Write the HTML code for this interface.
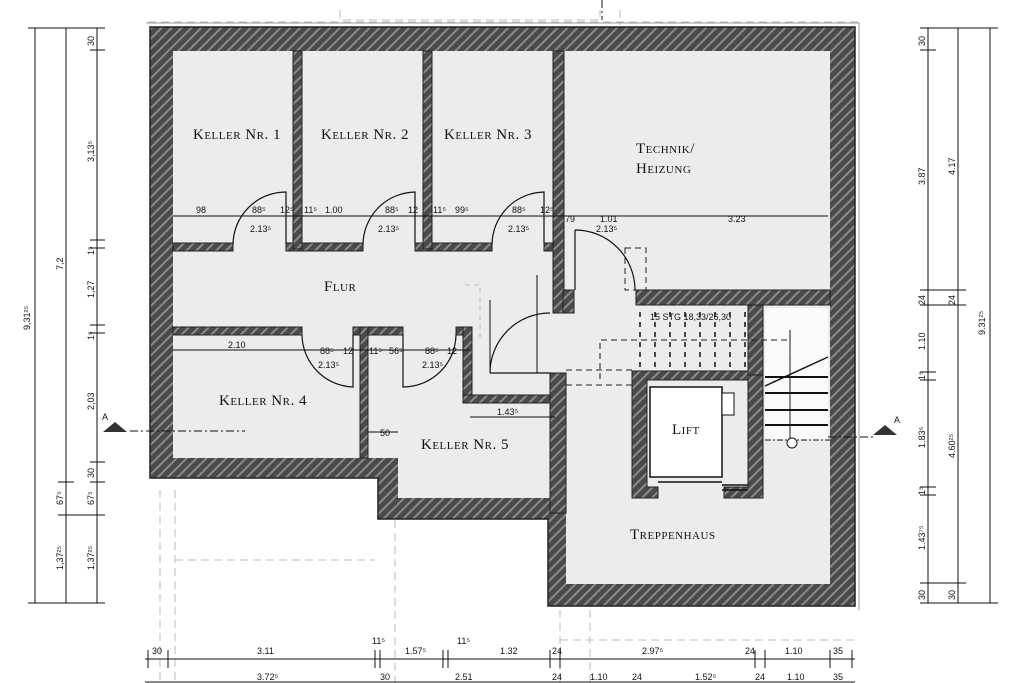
<!DOCTYPE html>
<html><head><meta charset="utf-8"><style>
html,body{margin:0;padding:0;background:#fff}
svg{display:block}
.lab{font-family:"Liberation Serif",serif;font-size:15px;font-variant:small-caps;fill:#111;letter-spacing:0.5px}
.d{font-family:"Liberation Sans",sans-serif;font-size:9px;fill:#111}
.dl{stroke:#111;stroke-width:1;fill:none}
.ds{stroke:#222;stroke-width:1;fill:none;stroke-dasharray:6 4}
</style></head><body>
<svg width="1024" height="683" viewBox="0 0 1024 683" xmlns="http://www.w3.org/2000/svg">
<defs>
<pattern id="h" width="7" height="7" patternUnits="userSpaceOnUse" patternTransform="rotate(45)">
<rect width="7" height="7" fill="#4a4a4a"/><rect width="2" height="7" fill="#8a8a8a"/>
</pattern>
</defs>
<rect width="1024" height="683" fill="#fff"/>
<!-- faint background dashed lines -->
<g stroke="#bbb" stroke-width="1" stroke-dasharray="8 5" fill="none">
<path d="M160 490V683M175 490V683M395 520V683M560 610V683M590 610V683M340 10V20H600V10M620 10V25M148 22H860"/>
<path d="M175 560H375M560 640H855"/>
</g>
<path d="M602 0V20" stroke="#111" stroke-dasharray="8 3 2 3"/>
<!-- outer walls -->
<path d="M150 27H855V606H548V519H378V478H150Z" fill="url(#h)" stroke="#222" stroke-width="1.5"/>
<path d="M146 23H859V610" fill="none" stroke="#999"/>
<!-- inner fill -->
<path d="M173 51H830V584H566V498H398V458H173Z" fill="#ececec"/>
<!-- interior walls -->
<g fill="url(#h)" stroke="#222" stroke-width="1">
<rect x="173" y="243" width="60" height="8"/>
<rect x="286" y="243" width="77" height="8"/>
<rect x="415" y="243" width="77" height="8"/>
<rect x="544" y="243" width="10" height="8"/>
<rect x="293" y="51" width="9" height="198"/>
<rect x="423" y="51" width="9" height="198"/>
<rect x="553" y="51" width="11" height="262"/>
<rect x="563" y="290" width="11" height="23"/>
<rect x="636" y="290" width="194" height="15"/>
<rect x="173" y="327" width="129" height="8"/>
<rect x="353" y="327" width="50" height="8"/>
<rect x="360" y="327" width="8" height="131"/>
<rect x="456" y="327" width="16" height="8"/>
<rect x="463" y="327" width="9" height="76"/>
<rect x="463" y="395" width="102" height="8"/>
<rect x="550" y="373" width="16" height="140"/>
<path d="M632 371H763V498H724V487H748V380H647V487H658V498H632Z"/>
<rect x="748" y="305" width="15" height="70"/>
</g>
<!-- lift & stairs -->
<rect x="650" y="387" width="72" height="90" fill="#fff" stroke="#111" stroke-width="1.5"/>
<rect x="722" y="393" width="12" height="22" fill="#fff" stroke="#111"/>
<path d="M722 485H748M722 490H748M658 482H722" stroke="#111" stroke-width="1.5"/>
<rect x="765" y="308" width="63" height="132" fill="#fafafa"/>
<g stroke="#111" stroke-width="2">
<path d="M765 377H828M765 393H828M765 410H828M765 425H828"/>
<path d="M765 386L828 357" stroke-width="1.5"/>
</g>
<path d="M765 440H830" stroke="#111" stroke-dasharray="6 2 2 2"/>
<path d="M790 330V440" stroke="#111"/>
<circle cx="792" cy="443" r="5" fill="#fff" stroke="#111"/>
<g stroke="#111" stroke-width="1.5" stroke-dasharray="5 5">
<path d="M640 312V372M655 312V372M670 312V372M685 312V372M700 312V372M715 312V372M730 312V372M745 312V372"/>
</g>
<path class="ds" d="M600 379V340H790V440"/>
<path class="ds" d="M566 370H632M566 385H632"/>
<text class="d" x="650" y="320">15 STG 18,33/26,30</text>
<!-- doors -->
<g stroke="#111" stroke-width="1.2" fill="none">
<path d="M286 243V192A53 53 0 0 0 233 245"/>
<path d="M415 243V192A53 53 0 0 0 363 245"/>
<path d="M544 243V192A53 53 0 0 0 492 245"/>
<path d="M353 335V387A53 53 0 0 1 302 335"/>
<path d="M403 335V387A53 53 0 0 0 456 335"/>
<path d="M490 373H550M490 373A60 60 0 0 1 550 313"/>
<path d="M575 230V290M575 230A60 60 0 0 1 635 290"/>
</g>
<path class="ds" d="M625 248H646V290H625Z"/>
<path d="M465 285H480V340" stroke="#bbb" stroke-dasharray="5 4" fill="none"/>
<!-- inner dimension lines -->
<g class="dl">
<path d="M173 216H828"/>
<path d="M173 350H470"/>
<path d="M470 417H555"/>
<path d="M368 432H398"/>
<path d="M537 275V373M490 300V372"/>
</g>
<g class="d">
<text x="196" y="213">98</text><text x="252" y="213">88⁵</text><text x="250" y="232">2.13⁵</text><text x="280" y="213">12⁵</text>
<text x="304" y="213">11⁵</text><text x="325" y="213">1.00</text><text x="385" y="213">88⁵</text><text x="378" y="232">2.13⁵</text><text x="408" y="213">12</text>
<text x="433" y="213">11⁵</text><text x="455" y="213">99⁵</text><text x="512" y="213">88⁵</text><text x="508" y="232">2.13⁵</text><text x="540" y="213">12⁵</text>
<text x="565" y="222">79</text><text x="600" y="222">1.01</text><text x="596" y="232">2.13⁵</text><text x="728" y="222">3.23</text>
<text x="228" y="348">2.10</text><text x="320" y="354">88⁵</text><text x="318" y="368">2.13⁵</text><text x="343" y="354">12</text>
<text x="369" y="354">11⁵</text><text x="389" y="354">56⁵</text><text x="425" y="354">88⁵</text><text x="422" y="368">2.13⁵</text><text x="447" y="354">12</text>
<text x="497" y="415">1.43⁵</text><text x="380" y="436">50</text>
</g>
<!-- labels -->
<text class="lab" x="193" y="139">Keller Nr. 1</text>
<text class="lab" x="321" y="139">Keller Nr. 2</text>
<text class="lab" x="444" y="139">Keller Nr. 3</text>
<text class="lab" x="636" y="153">Technik/</text>
<text class="lab" x="636" y="173">Heizung</text>
<text class="lab" x="324" y="291">Flur</text>
<text class="lab" x="219" y="405">Keller Nr. 4</text>
<text class="lab" x="421" y="449">Keller Nr. 5</text>
<text class="lab" x="672" y="434">Lift</text>
<text class="lab" x="630" y="539">Treppenhaus</text>
<!-- section markers -->
<path d="M103 432L115 422L127 432Z" fill="#333"/>
<text class="d" x="102" y="420">A</text>
<path d="M130 431H245" stroke="#111" stroke-dasharray="8 3 2 3"/>
<path d="M873 435L885 425L897 435Z" fill="#333"/>
<text class="d" x="894" y="423">A</text>
<path d="M828 437H873" stroke="#111" stroke-dasharray="8 3 2 3"/>
<!-- left dimensions -->
<g class="dl">
<path d="M35 28V603M66 28V603M97 28V603"/>
<path d="M28 28H105M28 603H105M90 50H105M90 240H105M90 248H105M90 325H105M90 333H105M90 462H105M90 482H105M58 482H74M58 515H105"/>
</g>
<g class="d">
<text transform="translate(30 330) rotate(-90)">9,31²⁵</text>
<text transform="translate(63 270) rotate(-90)">7,2</text>
<text transform="translate(94 46) rotate(-90)">30</text>
<text transform="translate(94 162) rotate(-90)">3,13⁵</text>
<text transform="translate(94 255) rotate(-90)">1⁵</text>
<text transform="translate(94 298) rotate(-90)">1,27</text>
<text transform="translate(94 340) rotate(-90)">1⁵</text>
<text transform="translate(94 410) rotate(-90)">2,03</text>
<text transform="translate(94 478) rotate(-90)">30</text>
<text transform="translate(63 505) rotate(-90)">67⁵</text>
<text transform="translate(94 505) rotate(-90)">67⁵</text>
<text transform="translate(63 570) rotate(-90)">1,37²⁵</text>
<text transform="translate(94 570) rotate(-90)">1,37²⁵</text>
</g>
<!-- right dimensions -->
<g class="dl">
<path d="M928 28V603M958 28V603M990 28V603"/>
<path d="M920 28H998M920 603H998M920 50H936M920 290H966M920 305H966M920 372H936M920 380H936M920 487H936M920 495H936M920 583H966"/>
</g>
<g class="d">
<text transform="translate(925 46) rotate(-90)">30</text>
<text transform="translate(925 185) rotate(-90)">3.87</text>
<text transform="translate(955 175) rotate(-90)">4.17</text>
<text transform="translate(925 305) rotate(-90)">24</text>
<text transform="translate(955 305) rotate(-90)">24</text>
<text transform="translate(925 350) rotate(-90)">1.10</text>
<text transform="translate(925 380) rotate(-90)">1⁵</text>
<text transform="translate(925 448) rotate(-90)">1.83⁵</text>
<text transform="translate(955 458) rotate(-90)">4.60²⁵</text>
<text transform="translate(985 335) rotate(-90)">9.31²⁵</text>
<text transform="translate(925 495) rotate(-90)">1⁵</text>
<text transform="translate(925 550) rotate(-90)">1.43⁷⁵</text>
<text transform="translate(925 600) rotate(-90)">30</text>
<text transform="translate(955 600) rotate(-90)">30</text>
</g>
<!-- bottom dimensions -->
<g class="dl">
<path d="M145 659H855M145 682H855"/>
<path d="M148 650V668M168 650V668M375 650V668M380 650V668M443 650V668M448 650V668M550 650V668M560 650V668M755 650V668M765 650V668M830 650V668M852 650V668"/>
</g>
<g class="d">
<text x="152" y="654">30</text><text x="257" y="654">3.11</text><text x="372" y="644">11⁵</text><text x="405" y="654">1.57⁵</text>
<text x="457" y="644">11⁵</text><text x="500" y="654">1.32</text><text x="552" y="654">24</text><text x="642" y="654">2.97⁵</text>
<text x="745" y="654">24</text><text x="785" y="654">1.10</text><text x="833" y="654">35</text>
<text x="257" y="680">3.72⁵</text><text x="380" y="680">30</text><text x="455" y="680">2.51</text><text x="552" y="680">24</text>
<text x="590" y="680">1.10</text><text x="632" y="680">24</text><text x="695" y="680">1.52⁵</text><text x="755" y="680">24</text><text x="787" y="680">1.10</text><text x="833" y="680">35</text>
</g>
</svg>
</body></html>
